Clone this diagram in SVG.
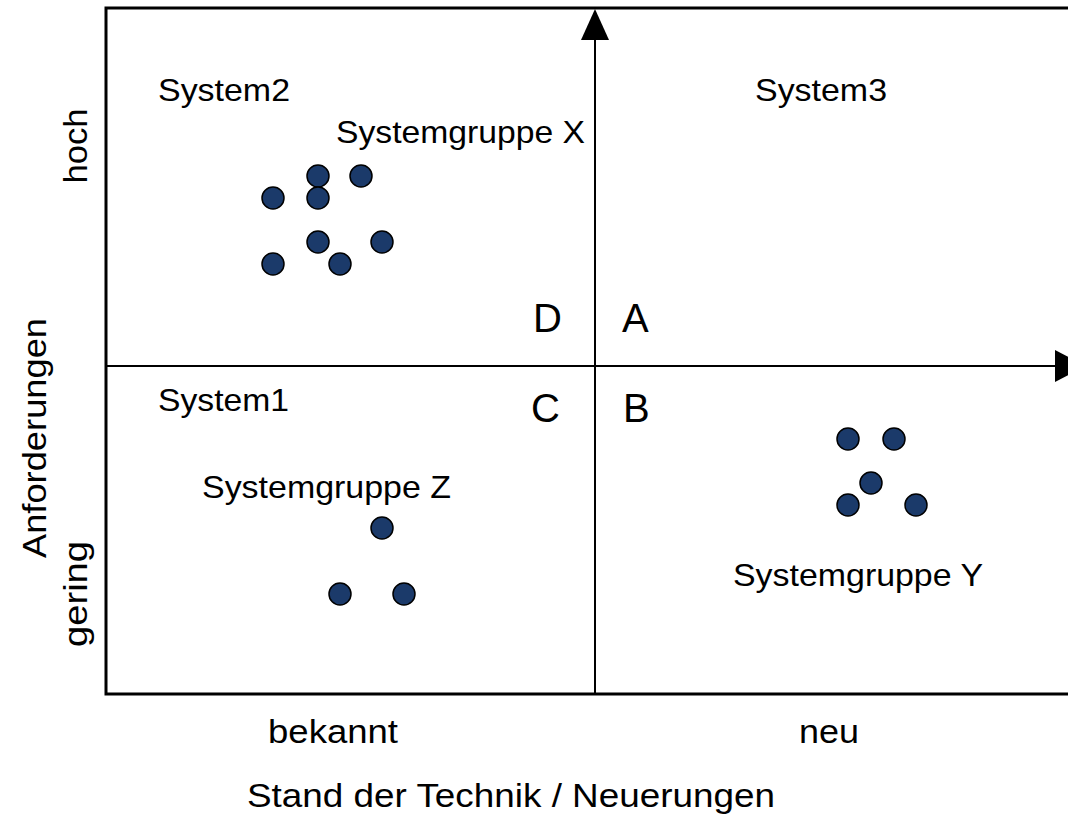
<svg xmlns="http://www.w3.org/2000/svg" width="1068" height="818" viewBox="0 0 1068 818">
<style>
text{font-family:"Liberation Sans",Arial,sans-serif;fill:#000}
.t{font-size:32px}
.big{font-size:40px}
.ax{font-size:34px}
.dot{fill:#1b3a6a;stroke:#000;stroke-width:1.5}
.ln{stroke:#000;fill:none}
</style>
<rect width="1068" height="818" fill="#fff"/>
<g id="connectors">
<path class="ln" d="M1080 8 H106 V694 H1080" stroke-width="3"/>
<line class="ln" x1="595" y1="694" x2="595" y2="38" stroke-width="2"/>
<line class="ln" x1="106" y1="366" x2="1058" y2="366" stroke-width="2"/>
<polygon points="595,9 581,40 609,40" fill="#000"/>
<polygon points="1055,350 1055,382 1086,366" fill="#000"/>
</g>
<g id="quadrant-labels">
<text class="big" x="533" y="332">D</text>
<text class="big" x="622" y="332">A</text>
<text class="big" x="531" y="422">C</text>
<text class="big" x="623" y="422">B</text>
</g>
<g id="system-labels">
<text class="t" x="158" y="101" textLength="132" lengthAdjust="spacingAndGlyphs">System2</text>
<text class="t" x="336" y="143" textLength="249" lengthAdjust="spacingAndGlyphs">Systemgruppe X</text>
<text class="t" x="755" y="101" textLength="132" lengthAdjust="spacingAndGlyphs">System3</text>
<text class="t" x="158" y="411" textLength="131" lengthAdjust="spacingAndGlyphs">System1</text>
<text class="t" x="202" y="498" textLength="249" lengthAdjust="spacingAndGlyphs">Systemgruppe Z</text>
<text class="t" x="733" y="586" textLength="250" lengthAdjust="spacingAndGlyphs">Systemgruppe Y</text>
</g>
<g id="group-x">
<circle class="dot" cx="318" cy="176" r="11"/>
<circle class="dot" cx="361" cy="176" r="11"/>
<circle class="dot" cx="273" cy="198" r="11"/>
<circle class="dot" cx="318" cy="198" r="11"/>
<circle class="dot" cx="318" cy="242" r="11"/>
<circle class="dot" cx="382" cy="242" r="11"/>
<circle class="dot" cx="273" cy="264" r="11"/>
<circle class="dot" cx="340" cy="264" r="11"/>
</g>
<g id="group-y">
<circle class="dot" cx="848" cy="439" r="11"/>
<circle class="dot" cx="894" cy="439" r="11"/>
<circle class="dot" cx="871" cy="483" r="11"/>
<circle class="dot" cx="848" cy="505" r="11"/>
<circle class="dot" cx="916" cy="505" r="11"/>
</g>
<g id="group-z">
<circle class="dot" cx="382" cy="528" r="11"/>
<circle class="dot" cx="340" cy="594" r="11"/>
<circle class="dot" cx="404" cy="594" r="11"/>
</g>
<g id="axis-labels">
<text class="ax" x="333" y="743" text-anchor="middle" textLength="130" lengthAdjust="spacingAndGlyphs">bekannt</text>
<text class="ax" x="829" y="743" text-anchor="middle" textLength="60" lengthAdjust="spacingAndGlyphs">neu</text>
<text class="ax" x="511" y="807" text-anchor="middle" textLength="528" lengthAdjust="spacingAndGlyphs">Stand der Technik / Neuerungen</text>
<text class="ax" transform="translate(87,146) rotate(-90)" text-anchor="middle" textLength="75" lengthAdjust="spacingAndGlyphs">hoch</text>
<text class="ax" transform="translate(46,438) rotate(-90)" text-anchor="middle" textLength="240" lengthAdjust="spacingAndGlyphs">Anforderungen</text>
<text class="ax" transform="translate(87,594) rotate(-90)" text-anchor="middle" textLength="106" lengthAdjust="spacingAndGlyphs">gering</text>
</g>
</svg>
